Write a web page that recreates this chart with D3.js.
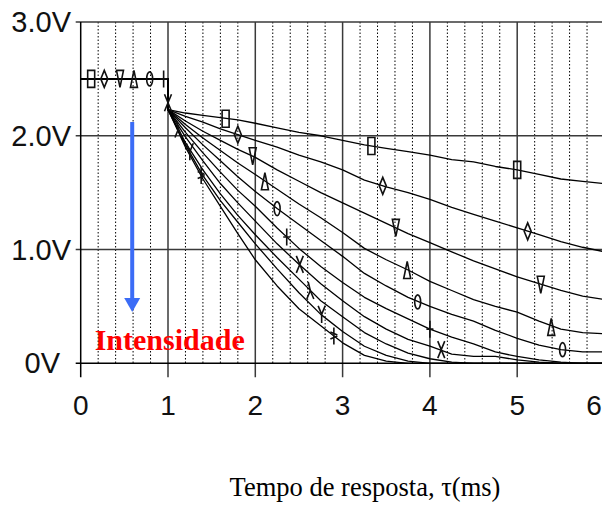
<!DOCTYPE html>
<html><head><meta charset="utf-8">
<script src="https://cdn.jsdelivr.net/npm/d3@7"></script>
<style>body{margin:0;background:#fff}</style>
</head><body><svg id="c" width="602" height="513"></svg>
<script>
// ---- data ----
const xTicks = [0, 1, 2, 3, 4, 5, 6];
const xMinor = [0.2,0.4,0.6,0.8,1.2,1.4,1.6,1.8,2.2,2.4,2.6,2.8,3.2,3.4,3.6,3.8,4.2,4.4,4.6,4.8,5.2,5.4,5.6,5.8];
const yTicks = [0, 1, 2, 3];
const yTickLabels = ["0V", "1.0V", "2.0V", "3.0V"];
const xTitle = "Tempo de resposta, τ(ms)";
const annotation = "Intensidade";

const preTime = [0, 1.0];
const preLevel = 2.5;
const timeMs = [1.0,1.2,1.4,1.6,1.8,2.0,2.25,2.5,2.75,3.0,3.25,3.5,3.75,4.0,4.25,4.5,4.75,5.0,5.25,5.5,5.75,6.0];

const vSquare  = [2.23,2.20,2.18,2.16,2.14,2.11,2.07,2.03,2.00,1.96,1.92,1.89,1.86,1.83,1.79,1.77,1.73,1.70,1.66,1.62,1.60,1.58];
const vDiamond = [2.23,2.17,2.12,2.06,2.01,1.96,1.90,1.83,1.77,1.70,1.61,1.55,1.50,1.44,1.37,1.31,1.25,1.19,1.13,1.07,1.02,0.98];
const vTriDown = [2.23,2.13,2.04,1.96,1.88,1.81,1.70,1.60,1.50,1.41,1.32,1.23,1.14,1.06,0.98,0.90,0.83,0.76,0.70,0.64,0.59,0.56];
const vTriUp   = [2.23,2.10,1.98,1.87,1.76,1.66,1.53,1.40,1.28,1.15,1.01,0.91,0.82,0.72,0.64,0.56,0.50,0.45,0.37,0.30,0.27,0.26];
const vCircle  = [2.23,2.07,1.92,1.78,1.64,1.51,1.36,1.22,1.08,0.94,0.79,0.68,0.58,0.50,0.43,0.37,0.29,0.22,0.16,0.12,0.10,0.10];
const vPlus    = [2.23,2.03,1.85,1.68,1.52,1.38,1.19,1.01,0.85,0.71,0.58,0.48,0.39,0.30,0.23,0.17,0.10,0.06,0.03,0.01,0.00,0.00];
const vCross   = [2.23,1.99,1.78,1.58,1.41,1.25,1.05,0.87,0.70,0.55,0.41,0.30,0.21,0.15,0.08,0.06,0.06,0.03,0.01,0.00,0.00,0.00];
const vLambda  = [2.23,1.94,1.70,1.49,1.30,1.13,0.93,0.74,0.55,0.41,0.27,0.17,0.09,0.04,0.01,0.00,0.00,0.00,0.00,0.00,0.00,0.00];
const vWye     = [2.23,1.92,1.65,1.43,1.24,1.05,0.83,0.62,0.43,0.28,0.15,0.07,0.02,0.00,0.00,0.00,0.00,0.00,0.00,0.00,0.00,0.00];
const vStar    = [2.23,1.90,1.62,1.38,1.14,0.91,0.68,0.48,0.33,0.18,0.07,0.02,0.00,0.00,0.00,0.00,0.00,0.00,0.00,0.00,0.00,0.00];

const mSquare  = [[0.12,2.5],[1.66,2.15],[3.33,1.91],[5.0,1.70]];
const mDiamond = [[0.27,2.5],[1.80,2.01],[3.46,1.56],[5.12,1.16]];
const mTriDown = [[0.45,2.5],[1.97,1.82],[3.61,1.19],[5.27,0.69]];
const mTriUp   = [[0.61,2.5],[2.11,1.60],[3.74,0.82],[5.39,0.32]];
const mCircle  = [[0.79,2.5],[2.25,1.36],[3.86,0.54],[5.52,0.12]];
const mPlus    = [[0.95,2.5],[2.36,1.11],[4.0,0.30]];
const mCross   = [[1.0,2.29],[2.51,0.87],[4.13,0.12]];
const mLambda  = [[1.12,2.06],[2.63,0.64]];
const mWye     = [[1.25,1.86],[2.76,0.43]];
const mStar    = [[1.38,1.65],[2.90,0.24]];

const arrowX = 0.59, arrowFrom = 2.12, arrowTo = 0.45;
const annotX = 0.16, annotY = 0.12;

const series = [
  {v: vSquare,  m: mSquare,  shape: "square"},
  {v: vDiamond, m: mDiamond, shape: "diamond"},
  {v: vTriDown, m: mTriDown, shape: "tdown"},
  {v: vTriUp,   m: mTriUp,   shape: "tup"},
  {v: vCircle,  m: mCircle,  shape: "circle"},
  {v: vPlus,    m: mPlus,    shape: "plus"},
  {v: vCross,   m: mCross,   shape: "cross"},
  {v: vLambda,  m: mLambda,  shape: "lambda"},
  {v: vWye,     m: mWye,     shape: "wye"},
  {v: vStar,    m: mStar,    shape: "star"}
];

// ---- drawing ----
const svg = d3.select("#c");
const x = d3.scaleLinear().domain([0, 6]).range([80.7, 604.5]);
const y = d3.scaleLinear().domain([0, 3]).range([363.3, 22]);
const x0 = x(0), yb = y(0);

// minor dotted verticals
svg.append("g").selectAll("line").data(xMinor).join("line")
  .attr("x1", d => x(d)).attr("x2", d => x(d)).attr("y1", y(3)).attr("y2", yb)
  .attr("stroke", "#000").attr("stroke-width", 1).attr("stroke-dasharray", "1.5,2");

// major verticals
svg.append("g").selectAll("line").data(xTicks.filter(d => d > 0)).join("line")
  .attr("x1", d => x(d)).attr("x2", d => x(d)).attr("y1", y(3)).attr("y2", yb + 14)
  .attr("stroke", "#3a3a3a").attr("stroke-width", 1.5);

// horizontal grid
svg.append("g").selectAll("line").data(yTicks.filter(d => d > 0)).join("line")
  .attr("x1", x0 - 5).attr("x2", 602).attr("y1", d => y(d)).attr("y2", d => y(d))
  .attr("stroke", "#3a3a3a").attr("stroke-width", 1.5);

// axes
svg.append("line").attr("x1", x0 - 5).attr("x2", 602).attr("y1", yb).attr("y2", yb)
  .attr("stroke", "#000").attr("stroke-width", 1.5);
svg.append("line").attr("x1", x0).attr("x2", x0).attr("y1", y(3)).attr("y2", yb + 14)
  .attr("stroke", "#000").attr("stroke-width", 1.5);

// tick labels
svg.append("g").selectAll("text").data(yTicks).join("text")
  .attr("x", (d, i) => yTickLabels[i].length < 3 ? 60 : 71)
  .attr("y", d => y(d)).attr("dy", "0.35em")
  .attr("text-anchor", "end")
  .attr("font-family", "Liberation Sans, Arial, sans-serif").attr("font-size", 29).attr("fill", "#111")
  .text((d, i) => yTickLabels[i]);

svg.append("g").selectAll("text").data(xTicks).join("text")
  .attr("x", d => Math.min(x(d), 594)).attr("y", 415)
  .attr("text-anchor", "middle")
  .attr("font-family", "Liberation Sans, Arial, sans-serif").attr("font-size", 28).attr("fill", "#111")
  .text(d => d);

// curves
const line = d3.line().x(d => x(d[0])).y(d => y(d[1]));
series.forEach(s => {
  const pts = preTime.map(t => [t, preLevel]).concat(timeMs.map((t, i) => [t, s.v[i]]));
  svg.append("path").datum(pts).attr("d", line)
    .attr("fill", "none").attr("stroke", "#000").attr("stroke-width", 1.3)
    .attr("stroke-linejoin", "round");
});

// markers
const hw = 3.5, hh = 8.5;
const shapes = {
  square: `M${-hw},${-hh}H${hw}V${hh}H${-hw}Z`,
  diamond: `M0,${-hh}L${hw},0L0,${hh}L${-hw},0Z`,
  tdown: `M${-hw},${-hh}H${hw}L0,${hh}Z`,
  tup: `M0,${-hh}L${hw},${hh}H${-hw}Z`,
  circle: `M0,${-7}A3,7 0 1,1 0,7A3,7 0 1,1 0,-7Z`,
  plus: `M0,${-hh}V${hh}M${-hw},0H${hw}`,
  cross: `M${-hw},${-hh}L${hw},${hh}M${hw},${-hh}L${-hw},${hh}`,
  lambda: `M${-hw},${hh}L0,0L${hw},${hh}M0,0L${-hw*0.6},${-hh}`,
  wye: `M${-hw},${-hh}L0,0L${hw},${-hh}M0,0V${hh}`,
  star: `M0,${-hh}V${hh}M${-hw},-4L${hw},-1M${-hw},3L${hw},0`
};
series.forEach(s => {
  svg.append("g").selectAll("path").data(s.m).join("path")
    .attr("transform", d => `translate(${x(d[0])},${y(d[1])})`)
    .attr("d", shapes[s.shape])
    .attr("fill", "none").attr("stroke", "#111").attr("stroke-width", 1.6);
});

// intensity arrow
const ax = x(arrowX);
svg.append("line").attr("x1", ax).attr("x2", ax).attr("y1", y(arrowFrom)).attr("y2", y(arrowTo) - 12)
  .attr("stroke", "#3b6cf6").attr("stroke-width", 4);
svg.append("path")
  .attr("d", `M${ax - 8},${y(arrowTo) - 14}L${ax + 8},${y(arrowTo) - 14}L${ax},${y(arrowTo)}Z`)
  .attr("fill", "#3b6cf6");

svg.append("text").attr("x", x(annotX)).attr("y", y(annotY))
  .attr("font-family", "Liberation Serif, Times New Roman, serif").attr("font-weight", "bold")
  .attr("font-size", 30).attr("fill", "#ff0000").text(annotation);

svg.append("text").attr("x", 365).attr("y", 496).attr("text-anchor", "middle")
  .attr("font-family", "Liberation Serif, Times New Roman, serif")
  .attr("font-size", 26.5).attr("fill", "#000").text(xTitle);
</script>
</body></html>
